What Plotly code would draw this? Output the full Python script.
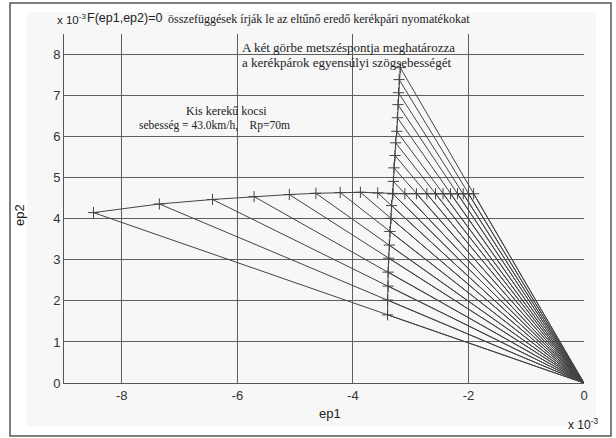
import plotly.graph_objects as go

# Curve 1 (nearly horizontal branch), ep1 / ep2 in units of 1e-3
A_ep1 = [-8.49, -7.35, -6.43, -5.71, -5.10, -4.64, -4.22, -3.87, -3.57, -3.31,
         -3.10, -2.90, -2.72, -2.57, -2.44, -2.31, -2.19, -2.09, -2.00, -1.91]
A_ep2 = [4.15, 4.36, 4.47, 4.54, 4.59, 4.62, 4.64, 4.645, 4.63, 4.61,
         4.61, 4.61, 4.61, 4.61, 4.61, 4.61, 4.61, 4.61, 4.61, 4.61]
# Curve 2 (nearly vertical branch)
B_ep1 = [-3.40, -3.40, -3.39, -3.39, -3.38, -3.37, -3.36, -3.34, -3.33, -3.31,
         -3.30, -3.29, -3.27, -3.26, -3.24, -3.23, -3.22, -3.21, -3.20, -3.18]
B_ep2 = [1.66, 2.02, 2.36, 2.70, 3.04, 3.36, 3.69, 4.01, 4.32, 4.61,
         4.91, 5.24, 5.54, 5.85, 6.13, 6.46, 6.78, 7.07, 7.39, 7.68]

x_ticks = [-8, -6, -4, -2, 0]
y_ticks = [0, 1, 2, 3, 4, 5, 6, 7, 8]

W, H = 616, 438
L, R, T, B = 64, 584, 34, 383

def px(x, y):
    return (x - L) / (R - L), (B - y) / (B - T)

INK = "#444444"

fig = go.Figure()

# rays from origin to every point of both curves
rx, ry = [], []
for xs, ys in ((A_ep1, A_ep2), (B_ep1, B_ep2)):
    for a, b in zip(xs, ys):
        rx += [0, a, None]
        ry += [0, b, None]
fig.add_trace(go.Scatter(x=rx, y=ry, mode="lines",
                         line=dict(color=INK, width=1), hoverinfo="skip"))

for xs, ys in ((A_ep1, A_ep2), (B_ep1, B_ep2)):
    fig.add_trace(go.Scatter(x=xs, y=ys, mode="lines+markers",
                             line=dict(color=INK, width=1),
                             marker=dict(symbol="cross-thin", size=8,
                                         line=dict(color=INK, width=1))))

ax_font = dict(family="Liberation Sans, Arial", size=13, color="#333333")
fig.update_xaxes(range=[-9, 0], tickvals=x_ticks, ticktext=[str(v) for v in x_ticks],
                 showgrid=True, gridcolor="#5e5e5e", gridwidth=1,
                 showline=True, linecolor="#555555", linewidth=1,
                 zeroline=False, ticks="", tickfont=ax_font)
fig.update_yaxes(range=[0, 8.5], tickvals=y_ticks, ticktext=[str(v) for v in y_ticks],
                 showgrid=True, gridcolor="#5e5e5e", gridwidth=1,
                 showline=True, linecolor="#555555", linewidth=1,
                 zeroline=False, ticks="", tickfont=ax_font)

ann = []
def text(x, y, s, size, family, xanchor="left", angle=0):
    ax, ay = px(x, y)
    ann.append(dict(x=ax, y=ay, xref="paper", yref="paper", text=s,
                    showarrow=False, xanchor=xanchor, yanchor="middle",
                    textangle=angle,
                    font=dict(family=family, size=size, color="#222222")))

sans = "Liberation Sans, Arial"
serif = "Liberation Serif, Times New Roman"
text(55, 19, "x 10<sup>-3</sup>", 11.5, sans)
text(85, 18, "F(ep1,ep2)=0", 12.5, sans)
text(166, 19, "összefüggések írják le az eltűnő eredő kerékpári nyomatékokat", 12, serif)
text(240, 47, "A két görbe metszéspontja meghatározza", 13, serif)
text(240, 63, "a kerékpárok egyensúlyi szögsebességét", 13, serif)
text(226, 111, "Kis kerekű kocsi", 12, serif, xanchor="center")
text(137, 125, "sebesség = 43.0km/h,&nbsp;&nbsp;&nbsp;&nbsp;Rp=70m", 11.5, serif)
text(330, 413, "ep1", 13, sans, xanchor="center")
text(19, 215, "ep2", 13, sans, xanchor="center", angle=-90)
text(566, 424, "x 10<sup>-3</sup>", 12, sans)

shapes = [
    dict(type="rect", xref="paper", yref="paper",
         x0=px(27, 0)[0], x1=px(596, 0)[0], y0=px(0, 426)[1], y1=px(0, 12)[1],
         fillcolor="#f7f7f7", line=dict(width=0), layer="below"),
    dict(type="rect", xref="paper", yref="paper",
         x0=px(10, 0)[0], x1=px(611, 0)[0], y0=px(0, 436)[1], y1=px(0, 3)[1],
         line=dict(color="#555555", width=1.5), layer="below"),
]

fig.update_layout(width=W, height=H, autosize=False,
                  margin=dict(l=L, r=W - R, t=T, b=H - B, pad=0),
                  paper_bgcolor="white", plot_bgcolor="#f7f7f7",
                  showlegend=False, annotations=ann, shapes=shapes)

fig.write_html("out.html", config={"displayModeBar": False},
               post_script="document.body.style.margin='0';"
                           "document.body.style.padding='0';"
                           "document.body.style.overflow='hidden';")
